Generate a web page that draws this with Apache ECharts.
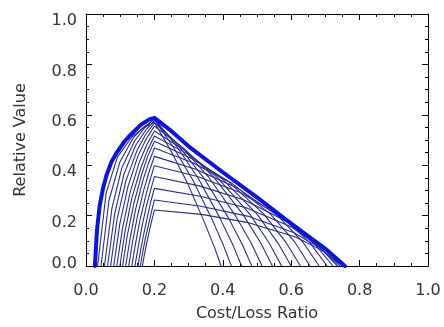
<!DOCTYPE html>
<html>
<head>
<meta charset="utf-8">
<script src="https://cdn.jsdelivr.net/npm/echarts@6/dist/echarts.min.js"></script>
<style>
  html, body { margin: 0; padding: 0; background: #fff; }
  #chart { width: 444px; height: 327px; }
</style>
</head>
<body>
<div id="chart"></div>
<script>
// axis ticks
const xTicks = [0, 0.2, 0.4, 0.6, 0.8, 1.0];
const yTicks = [0, 0.2, 0.4, 0.6, 0.8, 1.0];

// thin curves: relative value per probability threshold, [cost/loss, value]
const curve1 = [[0.034, 0], [0.059, 0.290], [0.092, 0.433], [0.134, 0.512], [0.167, 0.547], [0.2, 0.570], [0.249, 0.455], [0.298, 0.325], [0.346, 0.174], [0.376, 0.073], [0.395, 0]];
const curve2 = [[0.044, 0], [0.067, 0.259], [0.099, 0.413], [0.138, 0.508], [0.169, 0.552], [0.2, 0.582], [0.256, 0.470], [0.313, 0.339], [0.369, 0.184], [0.403, 0.078], [0.425, 0]];
const curve3 = [[0.054, 0], [0.076, 0.231], [0.105, 0.390], [0.142, 0.496], [0.171, 0.548], [0.2, 0.585], [0.264, 0.477], [0.328, 0.348], [0.391, 0.192], [0.430, 0.082], [0.455, 0]];
const curve4 = [[0.063, 0], [0.084, 0.208], [0.111, 0.365], [0.145, 0.478], [0.173, 0.536], [0.2, 0.578], [0.271, 0.476], [0.343, 0.352], [0.414, 0.197], [0.457, 0.085], [0.485, 0]];
const curve5 = [[0.072, 0], [0.091, 0.187], [0.117, 0.340], [0.149, 0.458], [0.174, 0.521], [0.2, 0.568], [0.279, 0.473], [0.358, 0.354], [0.436, 0.202], [0.484, 0.088], [0.515, 0]];
const curve6 = [[0.081, 0], [0.099, 0.168], [0.123, 0.317], [0.152, 0.437], [0.176, 0.504], [0.2, 0.555], [0.286, 0.467], [0.373, 0.354], [0.459, 0.205], [0.511, 0.091], [0.545, 0]];
const curve7 = [[0.090, 0], [0.107, 0.151], [0.129, 0.292], [0.156, 0.412], [0.178, 0.482], [0.2, 0.536], [0.293, 0.455], [0.386, 0.349], [0.479, 0.206], [0.535, 0.092], [0.572, 0]];
const curve8 = [[0.099, 0], [0.114, 0.136], [0.134, 0.269], [0.160, 0.388], [0.180, 0.459], [0.2, 0.516], [0.300, 0.442], [0.400, 0.344], [0.500, 0.206], [0.560, 0.094], [0.600, 0]];
const curve9 = [[0.107, 0], [0.121, 0.123], [0.140, 0.248], [0.163, 0.365], [0.181, 0.437], [0.2, 0.495], [0.307, 0.428], [0.414, 0.338], [0.520, 0.206], [0.584, 0.095], [0.627, 0]];
const curve10 = [[0.116, 0], [0.129, 0.109], [0.145, 0.225], [0.166, 0.338], [0.183, 0.409], [0.2, 0.468], [0.314, 0.409], [0.428, 0.327], [0.541, 0.204], [0.610, 0.096], [0.655, 0]];
const curve11 = [[0.125, 0], [0.136, 0.096], [0.151, 0.201], [0.170, 0.307], [0.185, 0.376], [0.2, 0.435], [0.321, 0.384], [0.441, 0.311], [0.562, 0.198], [0.634, 0.095], [0.682, 0]];
const curve12 = [[0.134, 0], [0.144, 0.083], [0.157, 0.177], [0.174, 0.275], [0.187, 0.341], [0.2, 0.398], [0.326, 0.355], [0.453, 0.291], [0.579, 0.189], [0.655, 0.092], [0.705, 0]];
const curve13 = [[0.143, 0], [0.152, 0.070], [0.163, 0.153], [0.177, 0.240], [0.189, 0.301], [0.2, 0.355], [0.331, 0.318], [0.461, 0.263], [0.592, 0.174], [0.670, 0.086], [0.722, 0]];
const curve14 = [[0.152, 0], [0.159, 0.058], [0.169, 0.128], [0.181, 0.204], [0.190, 0.259], [0.2, 0.308], [0.334, 0.277], [0.468, 0.231], [0.601, 0.155], [0.682, 0.077], [0.735, 0]];
const curve15 = [[0.159, 0], [0.165, 0.048], [0.173, 0.106], [0.184, 0.171], [0.192, 0.219], [0.2, 0.262], [0.336, 0.237], [0.472, 0.198], [0.607, 0.133], [0.689, 0.067], [0.743, 0]];
const curve16 = [[0.165, 0], [0.170, 0.039], [0.177, 0.088], [0.186, 0.143], [0.193, 0.184], [0.2, 0.222], [0.338, 0.205], [0.475, 0.172], [0.613, 0.115], [0.695, 0.058], [0.750, 0]];
const thinCurves = [curve1, curve2, curve3, curve4, curve5, curve6, curve7, curve8,
  curve9, curve10, curve11, curve12, curve13, curve14, curve15, curve16];

// thick envelope
const envelopeX = [0.026, 0.032, 0.040, 0.050, 0.060, 0.075, 0.090, 0.110, 0.130, 0.160, 0.185, 0.200, 0.250, 0.300, 0.400, 0.500, 0.600, 0.700, 0.757];
const envelopeY = [0, 0.14, 0.24, 0.31, 0.36, 0.415, 0.45, 0.49, 0.52, 0.56, 0.582, 0.588, 0.535, 0.475, 0.372, 0.272, 0.168, 0.068, 0];

const font = 'DejaVu Sans';
const textColor = '#333';

const baseAxis = (ticks) => ({
  type: 'value',
  min: ticks[0],
  max: ticks[ticks.length - 1],
  interval: 0.2,
  axisLine: { show: true, onZero: false, lineStyle: { color: '#000', width: 1 } },
  axisTick: { show: true, inside: true, length: 6, lineStyle: { color: '#000' } },
  minorTick: { show: true, splitNumber: 4, length: 3, lineStyle: { color: '#000' } },
  splitLine: { show: false },
  minorSplitLine: { show: false },
});

const chart = echarts.init(document.getElementById('chart'), null, { renderer: 'canvas' });

const option = {
  animation: false,
  backgroundColor: '#fff',
  grid: { left: 86, right: 16, top: 14, bottom: 56 },
  xAxis: [
    {
      ...baseAxis(xTicks),
      position: 'bottom',
      name: 'Cost/Loss Ratio',
      nameLocation: 'middle',
      nameGap: 40,
      nameTextStyle: { fontFamily: font, fontSize: 16, color: textColor },
      axisLabel: {
        margin: 17,
        fontFamily: font,
        fontSize: 16,
        color: textColor,
        formatter: (v) => v.toFixed(1),
      },
    },
    {
      ...baseAxis(xTicks),
      position: 'top',
      axisLabel: { show: false },
    },
  ],
  yAxis: [
    {
      ...baseAxis(yTicks),
      position: 'left',
      name: 'Relative Value',
      nameLocation: 'middle',
      nameGap: 57,
      nameTextStyle: { fontFamily: font, fontSize: 16, color: textColor },
      axisLabel: {
        margin: 9,
        fontFamily: font,
        fontSize: 16,
        color: textColor,
        formatter: (v) => (v === 0 ? '{lo|0.0}' : '{hi|' + v.toFixed(1) + '}'),
        rich: {
          lo: { fontFamily: font, fontSize: 16, color: textColor, padding: [0, 0, 4, 0] },
          hi: { fontFamily: font, fontSize: 16, color: textColor, padding: [14, 0, 0, 0] },
        },
      },
    },
    {
      ...baseAxis(yTicks),
      position: 'right',
      axisLabel: { show: false },
    },
  ],
  series: [
    ...thinCurves.map((pts) => ({
      type: 'line',
      data: pts,
      showSymbol: false,
      symbol: 'none',
      silent: true,
      lineStyle: { color: '#2a2a8e', width: 1.1 },
      z: 2,
    })),
    {
      type: 'line',
      data: envelopeX.map((x, i) => [x, envelopeY[i]]),
      showSymbol: false,
      symbol: 'none',
      silent: true,
      lineStyle: { color: '#0a12e8', width: 4, join: 'round', cap: 'round' },
      z: 3,
    },
  ],
};

chart.setOption(option);
</script>
</body>
</html>
